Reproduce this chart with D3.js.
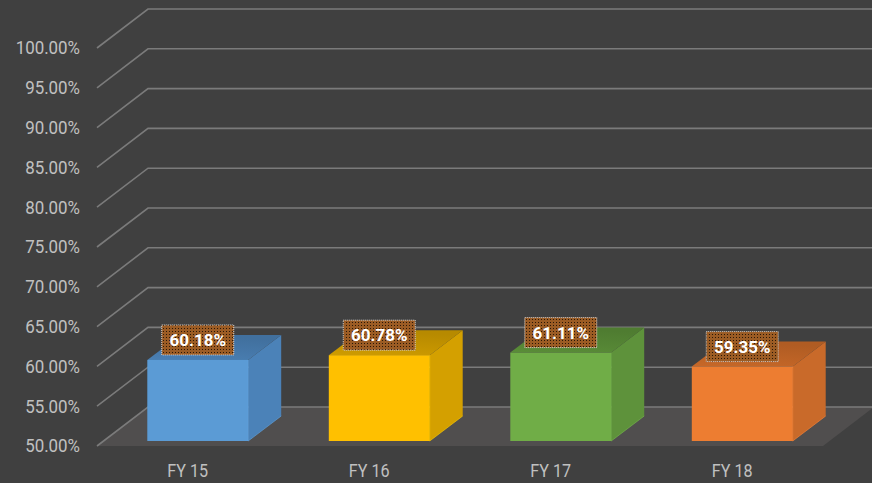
<!DOCTYPE html>
<html><head><meta charset="utf-8">
<script src="https://cdn.jsdelivr.net/npm/d3@7"></script>
<style>html,body{margin:0;padding:0;background:#404040;}svg{display:block;}</style>
</head><body>
<script>
const categories = ["FY 15", "FY 16", "FY 17", "FY 18"];
const values = [60.18, 60.78, 61.11, 59.35];
const labels = ["60.18%", "60.78%", "61.11%", "59.35%"];
const yTicks = [50, 55, 60, 65, 70, 75, 80, 85, 90, 95, 100];
const tickLabels = ["50.00%", "55.00%", "60.00%", "65.00%", "70.00%", "75.00%", "80.00%", "85.00%", "90.00%", "95.00%", "100.00%"];
const frontColors = ["#5b9bd5", "#ffc000", "#70ad47", "#ed7d31"];
const sideColors = ["#4b82b8", "#d4a000", "#5e923b", "#c96a2a"];
const topColors = ["#4a7fb3", "#cf9c00", "#5a8d38", "#c76828"];

const W = 872, H = 483;
const svg = d3.select("body").append("svg").attr("width", W).attr("height", H);
svg.append("rect").attr("width", W).attr("height", H).attr("fill", "#404040");

const depth = {dx: 51, dy: -39};     // floor / wall depth
const barFront = {dx: 7, dy: -5};    // bar front face offset into depth
const barDepth = {dx: 33, dy: -25};  // bar depth

const x = d3.scaleBand().domain(categories).range([97, 823]);
const y = d3.scaleLinear().domain([50, 100]).range([446, 48]);
const barW = x.step() * 0.556;
const barShift = 3;

const defs = svg.append("defs");
const pat = defs.append("pattern").attr("id", "dots").attr("patternUnits", "userSpaceOnUse")
  .attr("width", 3).attr("height", 3);
pat.append("rect").attr("width", 3).attr("height", 3).attr("fill", "#9c5c24");
pat.append("rect").attr("x", 1).attr("y", 1).attr("width", 1).attr("height", 1).attr("fill", "#2a1808");

categories.forEach((c, i) => {
  const g = defs.append("linearGradient").attr("id", "topg" + i).attr("x1", 0).attr("y1", 1).attr("x2", 0.3).attr("y2", 0);
  g.append("stop").attr("offset", "0%").attr("stop-color", topColors[i]);
  g.append("stop").attr("offset", "100%").attr("stop-color", d3.color(topColors[i]).darker(0.35));
});

// floor
const x0 = x.range()[0], x1 = x.range()[1], yb = y(50);
svg.append("path")
  .attr("d", `M${x0},${yb} L${x1},${yb} L${x1 + depth.dx},${yb + depth.dy} L${x0 + depth.dx},${yb + depth.dy} Z`)
  .attr("fill", "#504e4e");

// gridlines
const grid = svg.append("g");
yTicks.forEach(t => {
  const yy = y(t);
  grid.append("path")
    .attr("d", `M${x0},${yy} L${x0 + depth.dx},${yy + depth.dy} L${W},${yy + depth.dy}`)
    .attr("fill", "none").attr("stroke", "#7b7b7b").attr("stroke-width", 1.6);
});

// y labels
svg.append("g").selectAll("text").data(yTicks).join("text")
  .attr("transform", d => `translate(80,${y(d)}) scale(0.94,1)`)
  .attr("dy", "0.36em")
  .attr("text-anchor", "end").attr("fill", "#c0c0c0")
  .style("font-family", "Roboto, 'Open Sans', sans-serif").style("font-size", "18px")
  .text((d, i) => tickLabels[i]);

// category labels
svg.append("g").selectAll("text").data(categories).join("text")
  .attr("transform", d => `translate(${x(d) + x.bandwidth() / 2},470.5) scale(0.85,1)`)
  .attr("dy", "0.36em")
  .attr("text-anchor", "middle").attr("fill", "#c0c0c0")
  .style("font-family", "Roboto, 'Open Sans', sans-serif").style("font-size", "19px")
  .text(d => d);

// bars
const bars = svg.append("g");
categories.forEach((c, i) => {
  const L = x(c) + (x.step() - barW) / 2 + barShift + barFront.dx;
  const R = L + barW;
  const B = y(50) + barFront.dy;
  const T = y(values[i]) + barFront.dy;
  const ddx = barDepth.dx, ddy = barDepth.dy;
  // side
  bars.append("path")
    .attr("d", `M${R},${B} L${R + ddx},${B + ddy} L${R + ddx},${T + ddy} L${R},${T} Z`)
    .attr("fill", sideColors[i]);
  // top
  bars.append("path")
    .attr("d", `M${L},${T} L${R},${T} L${R + ddx},${T + ddy} L${L + ddx},${T + ddy} Z`)
    .attr("fill", `url(#topg${i})`);
  // front
  bars.append("rect").attr("x", L).attr("y", T).attr("width", barW).attr("height", B - T)
    .attr("fill", frontColors[i]);
  // edge highlights
  bars.append("path")
    .attr("d", `M${R},${T} L${R},${B} L${R + ddx},${B + ddy}`)
    .attr("fill", "none").attr("stroke", d3.color(frontColors[i]).brighter(0.2)).attr("stroke-width", 1).attr("opacity", 0.6);

  // data label
  const cx = (L + R) / 2, cy = T - 20;
  const lg = svg.append("g");
  lg.append("rect").attr("x", cx - 36).attr("y", cy - 15).attr("width", 72).attr("height", 30)
    .attr("fill", "url(#dots)").attr("stroke", "#d8d8d8").attr("stroke-width", 1).attr("stroke-dasharray", "1,1");
  lg.append("text").attr("x", cx).attr("y", cy).attr("dy", "0.36em").attr("text-anchor", "middle")
    .attr("fill", "#ffffff").style("font-family", "Roboto, 'Open Sans', sans-serif")
    .style("font-size", "17px").style("font-weight", "bold").text(labels[i]);
});
</script>
</body></html>
